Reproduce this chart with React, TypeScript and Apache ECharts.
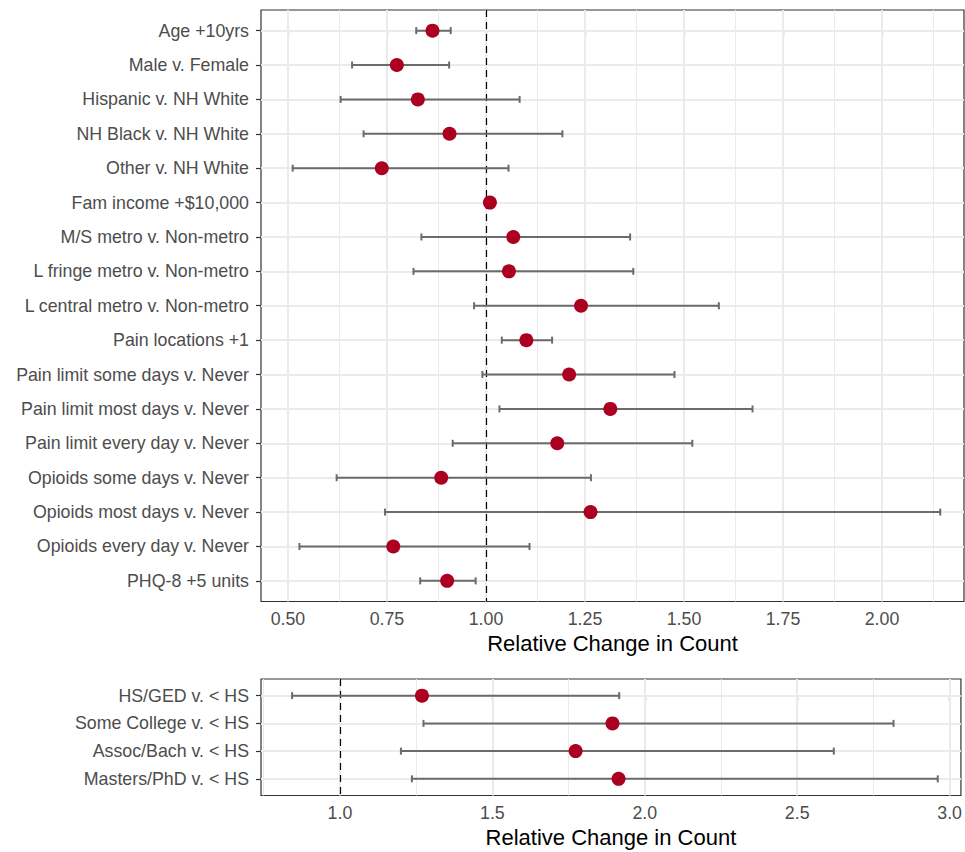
import React, { useEffect, useRef } from "react";
import * as echarts from "echarts";

const topCategories = [
  "Age +10yrs",
  "Male v. Female",
  "Hispanic v. NH White",
  "NH Black v. NH White",
  "Other v. NH White",
  "Fam income +$10,000",
  "M/S metro v. Non-metro",
  "L fringe metro v. Non-metro",
  "L central metro v. Non-metro",
  "Pain locations +1",
  "Pain limit some days v. Never",
  "Pain limit most days v. Never",
  "Pain limit every day v. Never",
  "Opioids some days v. Never",
  "Opioids most days v. Never",
  "Opioids every day v. Never",
  "PHQ-8 +5 units",
];
const topEstimate = [0.865, 0.775, 0.828, 0.908, 0.737, 1.01, 1.069, 1.058, 1.24, 1.102, 1.21, 1.314, 1.18, 0.887, 1.264, 0.766, 0.902];
const topLower = [0.824, 0.662, 0.633, 0.691, 0.512, 1.005, 0.837, 0.817, 0.97, 1.04, 0.991, 1.034, 0.916, 0.623, 0.745, 0.529, 0.834];
const topUpper = [0.911, 0.907, 1.085, 1.193, 1.057, 1.015, 1.364, 1.372, 1.588, 1.167, 1.476, 1.673, 1.521, 1.265, 2.147, 1.11, 0.974];
const topTicks = [0.5, 0.75, 1.0, 1.25, 1.5, 1.75, 2.0];
const topMinor = [0.625, 0.875, 1.125, 1.375, 1.625, 1.875, 2.125];

const bottomCategories = ["HS/GED v. < HS", "Some College v. < HS", "Assoc/Bach v. < HS", "Masters/PhD v. < HS"];
const bottomEstimate = [1.269, 1.894, 1.773, 1.914];
const bottomLower = [0.843, 1.274, 1.2, 1.236];
const bottomUpper = [1.916, 2.816, 2.62, 2.961];
const bottomTicks = [1.0, 1.5, 2.0, 2.5, 3.0];
const bottomMinor = [0.75, 1.25, 1.75, 2.25, 2.75];

const refValue = 1;
const axisTitle = "Relative Change in Count";

const FONT = "Liberation Sans, Arial, Helvetica, sans-serif";
const GRID_COLOR = "#ebebeb";
const POINT_COLOR = "#ab0020";
const BAR_COLOR = "#6b6b6b";

export default function App() {
  const ref = useRef<HTMLDivElement>(null);
  useEffect(() => {
    if (!ref.current) return;
    const chart = echarts.init(ref.current, undefined, { renderer: "svg" });

    const panels = [
      { cats: topCategories, est: topEstimate, lo: topLower, hi: topUpper, ticks: topTicks, minor: topMinor, min: 0.432, max: 2.207, digits: 2, gap: 30 },
      { cats: bottomCategories, est: bottomEstimate, lo: bottomLower, hi: bottomUpper, ticks: bottomTicks, minor: bottomMinor, min: 0.741, max: 3.037, digits: 1, gap: 31 },
    ];

    const xAxis: any[] = [];
    const yAxis: any[] = [];
    const series: any[] = [];

    panels.forEach((p, gi) => {
      const idxs = p.cats.map((_, i) => i);
      xAxis.push({
        type: "value",
        gridIndex: gi,
        min: p.min,
        max: p.max,
        axisLine: { show: false },
        axisTick: { show: true, customValues: p.ticks, length: 5, lineStyle: { color: "#333333", width: 1.2 } },
        axisLabel: {
          customValues: p.ticks,
          formatter: (v: number) => v.toFixed(p.digits),
          color: "#4d4d4d",
          fontSize: 17.8,
          fontFamily: FONT,
          margin: 8,
        },
        splitLine: { show: false },
        name: axisTitle,
        nameLocation: "middle",
        nameGap: p.gap,
        nameTextStyle: { fontSize: 22, color: "#000000", fontFamily: FONT },
      });
      yAxis.push({
        type: "value",
        gridIndex: gi,
        inverse: true,
        min: -0.6,
        max: p.cats.length - 1 + 0.6,
        axisLine: { show: false },
        axisTick: { show: true, customValues: idxs, length: 5, lineStyle: { color: "#333333", width: 1.2 } },
        axisLabel: {
          customValues: idxs,
          formatter: (v: number) => p.cats[Math.round(v)] ?? "",
          color: "#4d4d4d",
          fontSize: 17.8,
          fontFamily: FONT,
          margin: 12,
        },
        splitLine: { show: false },
      });

      // grid lines
      series.push({
        type: "scatter",
        xAxisIndex: gi,
        yAxisIndex: gi,
        data: [],
        z: 1,
        silent: true,
        markLine: {
          z: 1,
          silent: true,
          symbol: ["none", "none"],
          label: { show: false },
          animation: false,
          data: [
            ...p.minor.map((v) => ({ xAxis: v, lineStyle: { color: GRID_COLOR, width: 1, type: "solid" } })),
            ...p.ticks.map((v) => ({ xAxis: v, lineStyle: { color: GRID_COLOR, width: 2, type: "solid" } })),
            ...idxs.map((i) => ({ yAxis: i, lineStyle: { color: GRID_COLOR, width: 2, type: "solid" } })),
          ],
        },
      });
      // reference dashed line
      series.push({
        type: "scatter",
        xAxisIndex: gi,
        yAxisIndex: gi,
        data: [],
        z: 2,
        silent: true,
        markLine: {
          z: 2,
          silent: true,
          symbol: ["none", "none"],
          label: { show: false },
          animation: false,
          data: [{ xAxis: refValue, lineStyle: { color: "#000000", width: 1.2, type: [7, 5] } }],
        },
      });
      // error bars
      series.push({
        type: "custom",
        xAxisIndex: gi,
        yAxisIndex: gi,
        z: 3,
        silent: true,
        data: idxs.map((i) => [i, p.lo[i], p.hi[i]]),
        encode: { x: [1, 2], y: 0 },
        renderItem: (params: any, api: any) => {
          const i = api.value(0);
          const a = api.coord([api.value(1), i]);
          const b = api.coord([api.value(2), i]);
          const h = 3.5;
          const style = { stroke: BAR_COLOR, lineWidth: 2, fill: "none" };
          return {
            type: "group",
            children: [
              { type: "line", shape: { x1: a[0], y1: a[1], x2: b[0], y2: b[1] }, style },
              { type: "line", shape: { x1: a[0], y1: a[1] - h, x2: a[0], y2: a[1] + h }, style },
              { type: "line", shape: { x1: b[0], y1: b[1] - h, x2: b[0], y2: b[1] + h }, style },
            ],
          };
        },
      });
      // points
      series.push({
        type: "scatter",
        xAxisIndex: gi,
        yAxisIndex: gi,
        z: 4,
        silent: true,
        symbol: "circle",
        symbolSize: 14,
        itemStyle: { color: POINT_COLOR, opacity: 1 },
        data: idxs.map((i) => [p.est[i], i]),
      });
    });

    chart.setOption({
      animation: false,
      backgroundColor: "#ffffff",
      textStyle: { fontFamily: FONT },
      grid: [
        { left: 261, top: 10, width: 703, height: 591.5, show: true, borderColor: "#333333", borderWidth: 1.2, backgroundColor: "transparent", containLabel: false },
        { left: 261, top: 679, width: 703, height: 116.5, show: true, borderColor: "#333333", borderWidth: 1.2, backgroundColor: "transparent", containLabel: false },
      ],
      xAxis,
      yAxis,
      series,
    });

    return () => chart.dispose();
  }, []);

  return (
    <div
      ref={ref}
      style={{ position: "fixed", left: 0, top: 0, width: 965, height: 852, background: "#ffffff" }}
    />
  );
}
